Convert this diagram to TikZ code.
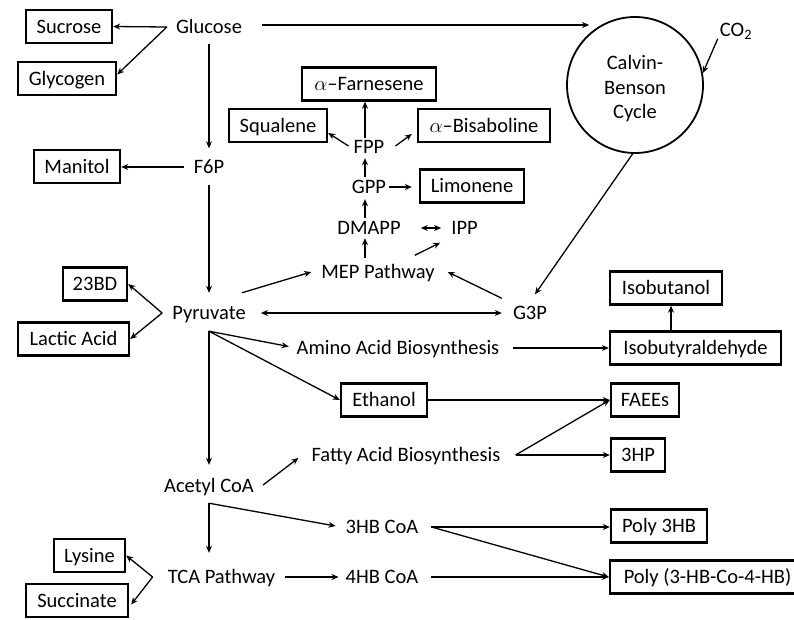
\documentclass[tikz,border=0pt]{standalone}
\usepackage{fontspec}
\setmainfont{Carlito}
\usetikzlibrary{arrows.meta,calc}
\newcommand\diagfont{\fontsize{20.5}{24.5}\selectfont}
\begin{document}
\begin{tikzpicture}[x=1pt,y=-1pt,font=\diagfont,
  lbl/.style={inner sep=0pt,text height=13pt,text depth=0pt},
  bx/.style={draw,line width=2.4pt,inner sep=0pt,text height=13pt,text depth=0pt,minimum height=33pt},
  arr/.style={line width=1.3pt,-{Stealth[length=7pt,width=6pt]}},
  darr/.style={line width=1.3pt,{Stealth[length=7pt,width=6pt]}-{Stealth[length=7pt,width=6pt]}}]
\useasboundingbox (0,0) rectangle (794,619);
\clip (0,0) rectangle (794,619);
\fill[white] (0,0) rectangle (794,619);
% text nodes
\node[lbl] (glu) at (209,27) {Glucose};
\node[lbl] (f6p) at (209,167) {F6P};
\node[lbl] (pyr) at (209,313) {Pyruvate};
\node[lbl] (acc) at (209,486) {Acetyl CoA};
\node[lbl] (tca) at (221.5,577) {TCA Pathway};
\node[lbl] (hb3) at (382,527) {3HB CoA};
\node[lbl] (hb4) at (382,577) {4HB CoA};
\node[lbl] (fab) at (406,455) {Fatty Acid Biosynthesis};
\node[lbl] (aab) at (398,348) {Amino Acid Biosynthesis};
\node[lbl] (mep) at (378,272) {MEP Pathway};
\node[lbl] (dmapp) at (369,228) {DMAPP};
\node[lbl] (ipp) at (464.5,228) {IPP};
\node[lbl] (gpp) at (369,187) {GPP};
\node[lbl] (fpp) at (369,147) {FPP};
\node[lbl] (g3p) at (530,313) {G3P};
\node[lbl] (co2) at (736,30) {CO\textsubscript{2}};
\node[draw,circle,line width=1.8pt,minimum size=136pt,inner sep=0pt,
  label={[align=center,yshift=-4pt]center:Calvin-\\Benson\\Cycle}] (calvin) at (635,85) {};
% boxes
\node[bx,minimum width=86] (suc) at (69,26.5) {Sucrose};
\node[bx,minimum width=98] (gly) at (67,78.5) {Glycogen};
\node[bx,minimum width=86] (man) at (77,166.5) {Manitol};
\node[bx,minimum width=134] (farn) at (369,84) {$\alpha$–Farnesene};
\node[bx,minimum width=98] (squ) at (278,125.5) {Squalene};
\node[bx,minimum width=132] (bis) at (484,125.5) {$\alpha$–Bisaboline};
\node[bx,minimum width=104] (lim) at (472,186) {Limonene};
\node[bx,minimum width=64] (bd) at (95,284) {23BD};
\node[bx,minimum width=111] (lac) at (73.5,339) {Lactic Acid};
\node[bx,minimum width=112] (iso) at (666,288) {Isobutanol};
\node[bx,minimum width=171] (isa) at (695.5,348) {Isobutyraldehyde};
\node[bx,minimum width=86] (eth) at (384,400) {Ethanol};
\node[bx,minimum width=68] (fae) at (645,400) {FAEEs};
\node[bx,minimum width=54] (hp) at (638,455) {3HP};
\node[bx,minimum width=96] (p3) at (659,526) {Poly 3HB};
\node[bx,minimum width=195] (pco) at (707.5,577) {Poly (3-HB-Co-4-HB)};
\node[bx,minimum width=71] (lys) at (89.5,555.5) {Lysine};
\node[bx,minimum width=102] (succ) at (77,600.5) {Succinate};
% glucose
\coordinate (gf) at ([shift={(-9,0)}]glu.west);
\draw[arr] (gf) -- (suc.east);
\draw[arr] (gf) -- ([shift={(0,-4)}]gly.east);
\draw[arr,shorten <=10pt,shorten >=12pt] (glu.south) -- (f6p.north);
\coordinate (cin) at ($(calvin.west |- glu.east)+(23,-2)$);
\draw[arr,shorten <=20pt] ([shift={(0,-2)}]glu.east) -- (cin);
% F6P
\draw[arr,shorten <=10pt] (f6p.west) -- (f6p.west -| man.east);
\draw[arr,shorten <=11.5pt,shorten >=13.5pt] (f6p.south) -- (pyr.north);
% pyruvate
\coordinate (pf) at ([shift={(-10,0)}]pyr.west);
\draw[arr] (pf) -- (bd.east);
\draw[arr] (pf) -- (lac.east);
\draw[darr,shorten <=15pt,shorten >=11pt] (pyr.east) -- (g3p.west);
\draw[arr] ([shift={(-4,-13.5)}]pyr.north east) -- ([shift={(-10,0)}]mep.west);
\coordinate (ps) at ([shift={(0,11.5)}]pyr.south);
\draw[arr,shorten >=8pt] (ps) -- (aab.west);
\draw[arr] (ps) -- (eth.west);
\draw[arr,shorten >=14.5pt] (ps) -- (ps |- acc.north);
% MEP / isoprenoids
\draw[arr,shorten <=7.5pt,shorten >=3.5pt] ($(dmapp.south |- mep.north)+(-4,0)$) -- ($(dmapp.south)+(-4,0)$);
\draw[arr,shorten <=3.5pt,shorten >=5.5pt] ($(dmapp.north)+(-4,0)$) -- ($(gpp.south)+(-4,0)$);
\draw[arr,shorten <=3.5pt,shorten >=4.5pt] ($(gpp.north)+(-4,0)$) -- ($(fpp.south)+(-4,0)$);
\draw[arr,shorten <=2.5pt] ($(fpp.north)+(-4,0)$) -- ($(fpp.north |- farn.south)+(-4,0)$);
\draw[arr,shorten <=3pt,shorten >=7pt] (gpp.east) -- (gpp.east -| lim.west);
\draw[arr] ($(fpp.west)+(-5,-1)$) -- ($(squ.east)+(0,7.5)$);
\draw[arr] ($(fpp.east)+(11,-1)$) -- ($(bis.west)+(-5,8.5)$);
\draw[darr,shorten <=20pt,shorten >=10pt] (dmapp.east) -- (ipp.west);
\draw[arr] ($(mep.north east)+(-20,-10)$) -- ($(ipp.south west)+(-11,8)$);
% G3P and Calvin
\draw[arr] ($(g3p.north west)+(-11,-8)$) -- ($(mep.east)+(13,0)$);
\draw[arr] (calvin.268) -- ($(g3p.north)+(5,-12)$);
\draw[arr] ($(co2.south west)+(-2,2)$) -- (calvin.10);
% amino acid / isobutanol
\draw[arr,shorten <=14pt] (aab.east) -- (aab.east -| isa.west);
\coordinate (isaup) at ($(isa.north)+(-24.5,0)$);
\draw[arr] (isaup) -- (isaup |- iso.south);
% ethanol / fatty acids
\draw[arr] (eth.east) -- (fae.west);
\coordinate (ff) at ([shift={(15,0)}]fab.east);
\draw[arr] (ff) -- (fae.west);
\draw[arr] (ff) -- (hp.west);
% acetyl CoA
\draw[arr] ($(acc.east)+(9,-1)$) -- ($(fab.west)+(-13,3)$);
\coordinate (as) at ([shift={(0,10.5)}]acc.south);
\draw[arr] (as) -- ($(hb3.west)+(-10,-1)$);
\draw[arr,shorten >=17.5pt] (as) -- (as |- tca.north);
% TCA
\draw[arr,shorten <=10pt,shorten >=7pt] (tca.east) -- (hb4.west);
\coordinate (tf) at ([shift={(-15,0)}]tca.west);
\draw[arr] (tf) -- (lys.east);
\draw[arr] (tf) -- ($(succ.east)+(2,4)$);
% HB CoA
\coordinate (h3) at ([shift={(13,0)}]hb3.east);
\draw[arr] (h3) -- (h3 -| p3.west);
\draw[arr] (h3) -- (pco.west);
\draw[arr,shorten <=13pt] (hb4.east) -- (hb4.east -| pco.west);
\end{tikzpicture}
\end{document}
